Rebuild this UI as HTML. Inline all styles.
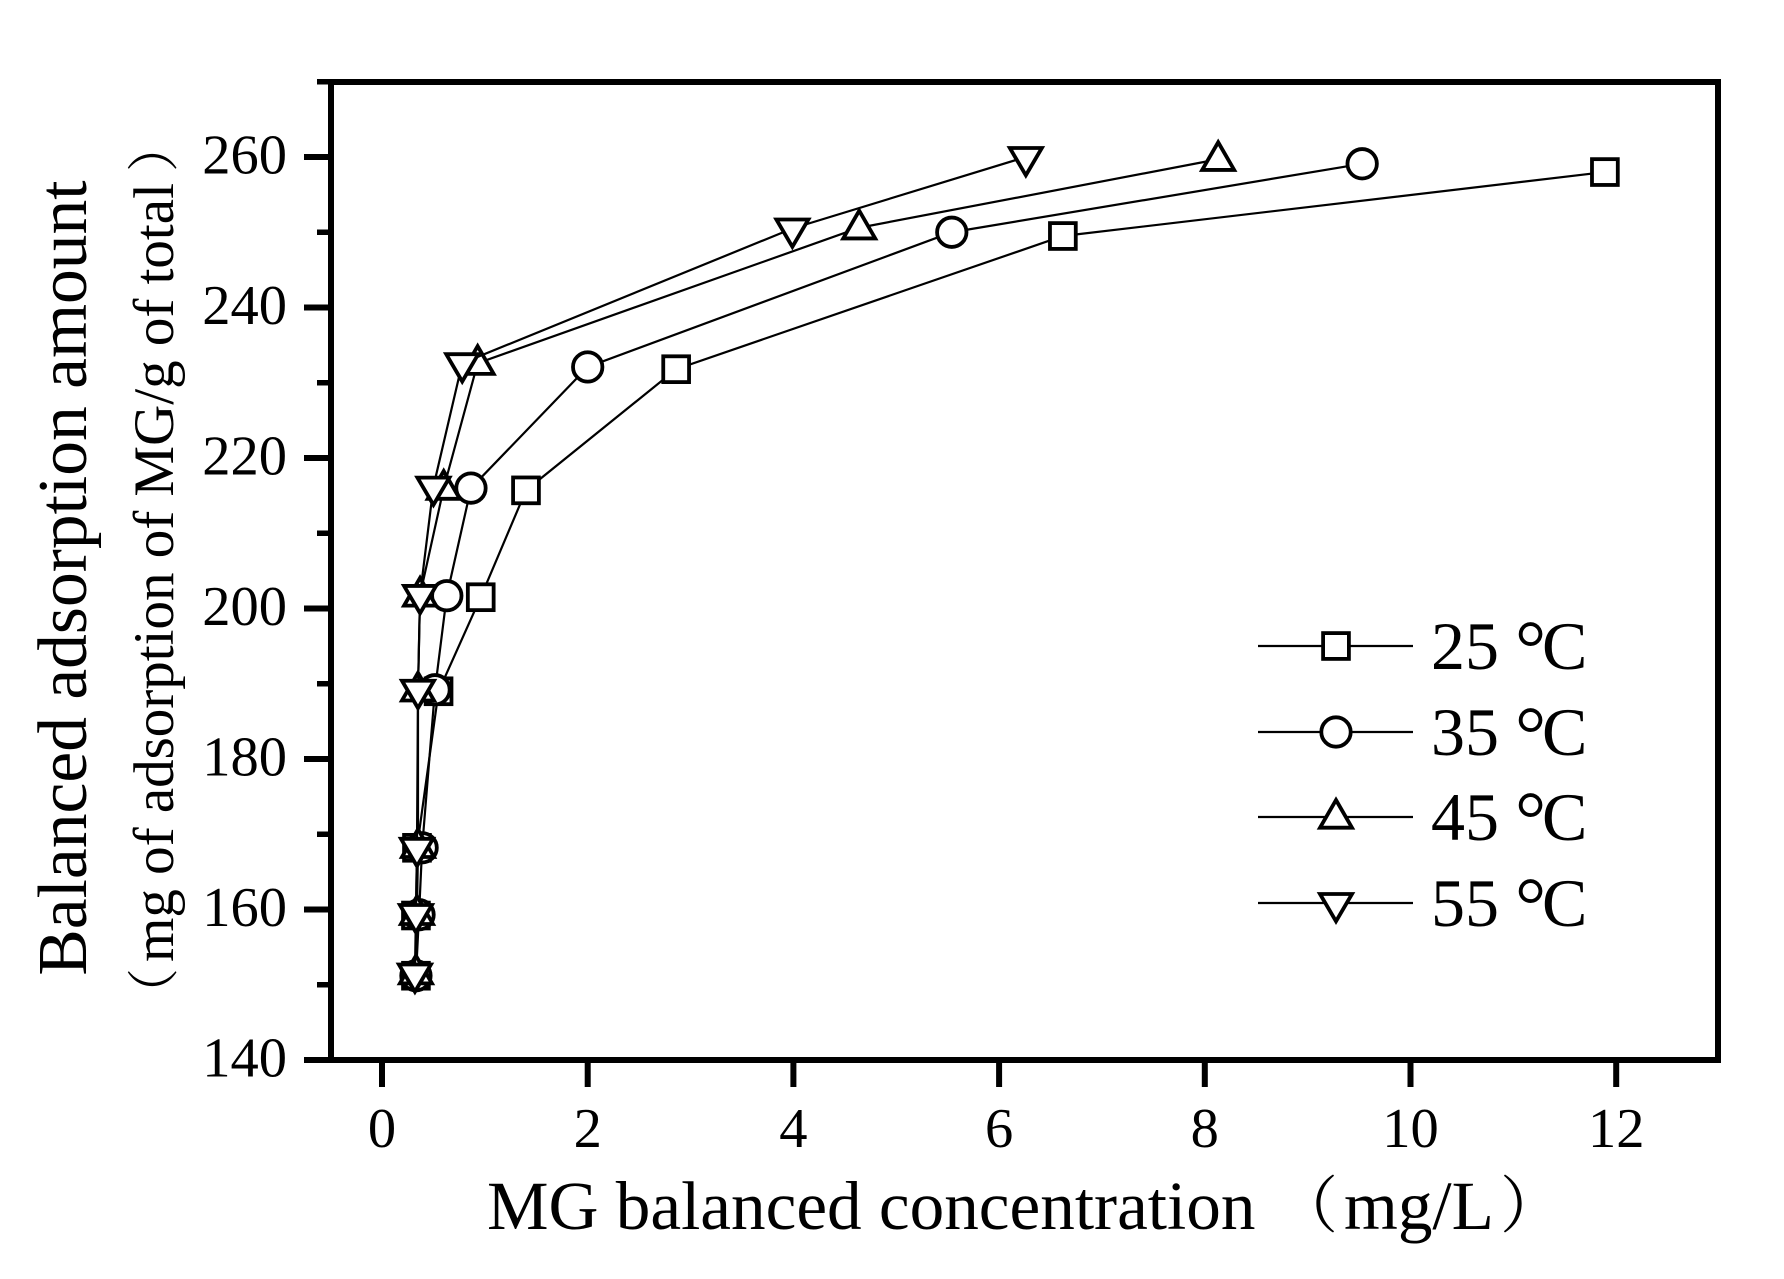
<!DOCTYPE html>
<html lang="en">
<head>
<meta charset="utf-8">
<title>Balanced adsorption isotherms</title>
<style>
html,body{margin:0;padding:0;background:#fff;width:1784px;height:1279px;overflow:hidden}
svg{display:block}
text{font-family:"Liberation Serif","Noto Serif CJK SC",serif;fill:#000}
</style>
</head>
<body>
<svg id="chart" xmlns="http://www.w3.org/2000/svg" width="1784" height="1279" viewBox="0 0 1784 1279">
  <rect x="0" y="0" width="1784" height="1279" fill="#fff"/>
  <g id="series-layer"></g>
  <g id="axis-layer"></g>
  <g id="legend-layer"></g>
  <g>
    <text x="487" y="1229" font-size="69.2">MG balanced concentration</text>
    <text x="1276" y="1227" font-size="62" font-family="'Noto Serif CJK SC',serif">（</text>
    <text x="1344" y="1229" font-size="69.2">mg/L</text>
    <text x="1500" y="1227" font-size="62" font-family="'Noto Serif CJK SC',serif">）</text>
  </g>
  <text transform="translate(86,578) rotate(-90)" text-anchor="middle" font-size="69.5">Balanced adsorption amount</text>
  <g>
    <text transform="translate(172,1020) rotate(-90)" font-size="52" font-family="'Noto Serif CJK SC',serif">（</text>
    <text transform="translate(173,962) rotate(-90)" font-size="57">mg of adsorption of MG/g of total</text>
    <text transform="translate(172,172) rotate(-90)" font-size="52" font-family="'Noto Serif CJK SC',serif">）</text>
  </g>
</svg>
<script>
const xTickValues = [0, 2, 4, 6, 8, 10, 12];
const yTickValues = [140, 160, 180, 200, 220, 240, 260];
const yMinorTickValues = [150, 170, 190, 210, 230, 250, 270];
const seriesNames = ['25', '35', '45', '55'];
const seriesMarkers = ['square', 'circle', 'triangle-up', 'triangle-down'];
const x25 = [0.33, 0.33, 0.34, 0.55, 0.96, 1.40, 2.86, 6.62, 11.89];
const y25 = [151.2, 159.2, 168.2, 189.0, 201.5, 215.7, 231.8, 249.5, 258.0];
const x35 = [0.33, 0.36, 0.39, 0.515, 0.63, 0.865, 2.00, 5.54, 9.53];
const y35 = [151.2, 159.3, 168.2, 189.2, 201.7, 216.0, 232.1, 250.0, 259.1];
const x45 = [0.33, 0.34, 0.35, 0.35, 0.37, 0.60, 0.93, 4.64, 8.13];
const y45 = [151.6, 159.5, 168.4, 189.2, 201.8, 216.0, 232.6, 250.6, 259.7];
const x55 = [0.32, 0.33, 0.34, 0.35, 0.37, 0.50, 0.78, 3.99, 6.26];
const y55 = [151.5, 159.4, 168.2, 189.2, 201.8, 216.2, 232.6, 250.5, 260.0];
const seriesX = [x25, x35, x45, x55];
const seriesY = [y25, y35, y45, y55];

const NS = 'http://www.w3.org/2000/svg';
function xScale(v) { return 382 + (v * 102.85); }
function yScale(v) { return 1060 - ((v - 140) * 7.525); }
function make(tag, attrs, parent) {
  const el = document.createElementNS(NS, tag);
  for (const k in attrs) el.setAttribute(k, attrs[k]);
  parent.appendChild(el);
  return el;
}
function drawMarker(kind, cx, cy, parent, label) {
  const style = { fill: '#fff', stroke: '#000', 'stroke-width': 3.8, 'stroke-miterlimit': 10 };
  let el;
  if (kind === 'square') {
    el = make('rect', Object.assign({ x: cx - 12.9, y: cy - 12.9, width: 25.8, height: 25.8 }, style), parent);
  } else if (kind === 'circle') {
    el = make('circle', Object.assign({ cx: cx, cy: cy, r: 14.7 }, style), parent);
  } else if (kind === 'triangle-up') {
    el = make('polygon', Object.assign({ points: [cx, cy - 17, cx + 16, cy + 10.7, cx - 16, cy + 10.7].join(',') }, style), parent);
  } else {
    el = make('polygon', Object.assign({ points: [cx, cy + 18.3, cx + 16, cy - 9, cx - 16, cy - 9].join(',') }, style), parent);
  }
  
  
  return el;
}

const seriesLayer = document.getElementById('series-layer');
const axisLayer = document.getElementById('axis-layer');
const legendLayer = document.getElementById('legend-layer');

seriesNames.forEach(function (name, s) {
  const group = make('g', {}, seriesLayer);
  
  
  const pts = seriesX[s].map(function (x, i) { return xScale(x) + ',' + yScale(seriesY[s][i]); }).join(' ');
  const line = make('polyline', { points: pts, fill: 'none', stroke: '#000', 'stroke-width': 2.2 }, group);
  
  
  seriesX[s].forEach(function (x, i) {
    drawMarker(seriesMarkers[s], xScale(x), yScale(seriesY[s][i]), group, 'point-' + name + 'c');
  });
});

const frame = make('rect', { x: 331, y: 82, width: 1387, height: 978, fill: 'none', stroke: '#000', 'stroke-width': 6 }, axisLayer);



xTickValues.forEach(function (v) {
  const px = xScale(v);
  const tick = make('line', { x1: px, x2: px, y1: 1060, y2: 1087, stroke: '#000', 'stroke-width': 6 }, axisLayer);
  
  
  const label = make('text', { x: px, y: 1147, 'font-size': 56.5, 'text-anchor': 'middle' }, axisLayer);
  label.textContent = v;
  
  
});
yTickValues.forEach(function (v) {
  const py = yScale(v);
  const tick = make('line', { x1: 304, x2: 331, y1: py, y2: py, stroke: '#000', 'stroke-width': 6 }, axisLayer);
  
  
  const label = make('text', { x: 287, y: py + 16.5, 'font-size': 56.5, 'text-anchor': 'end' }, axisLayer);
  label.textContent = v;
  
  
});
yMinorTickValues.forEach(function (v) {
  const py = yScale(v);
  const tick = make('line', { x1: 317, x2: 331, y1: py, y2: py, stroke: '#000', 'stroke-width': 5.5 }, axisLayer);
  
  
});

const legendRowsY = [646, 732, 817, 903];
seriesNames.forEach(function (name, s) {
  const row = make('g', {}, legendLayer);
  
  
  const ly = legendRowsY[s];
  const sample = make('line', { x1: 1258, x2: 1413, y1: ly, y2: ly, stroke: '#000', 'stroke-width': 2.2 }, row);
  
  
  drawMarker(seriesMarkers[s], 1336, ly, row, 'legend-marker');
  const label = make('text', { x: 1431, y: ly + 23, 'font-size': 68 }, row);
  
  
  label.textContent = name;
  const degree = make('tspan', { x: 1515, dy: 5.5, 'font-size': 78 }, label);
  degree.textContent = '°';
  const celsius = make('tspan', { x: 1542, dy: -5.5 }, label);
  celsius.textContent = 'C';
});
</script>
</body>
</html>
